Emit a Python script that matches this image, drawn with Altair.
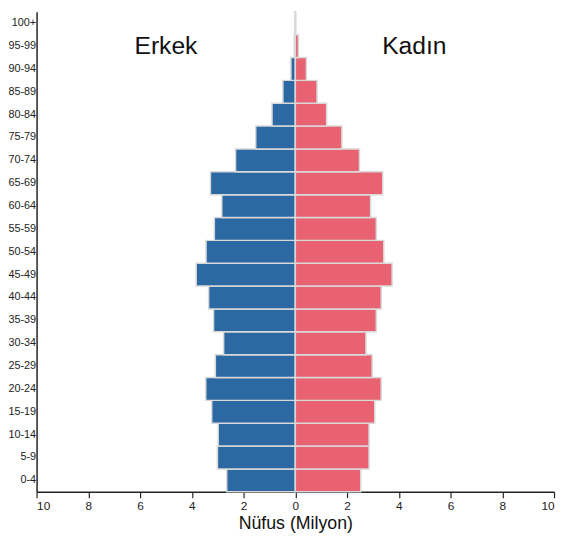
import altair as alt
import pandas as pd

ages = ["0-4", "5-9", "10-14", "15-19", "20-24", "25-29", "30-34", "35-39",
        "40-44", "45-49", "50-54", "55-59", "60-64", "65-69", "70-74",
        "75-79", "80-84", "85-89", "90-94", "95-99", "100+"]
erkek = [2.65, 3.01, 2.98, 3.23, 3.46, 3.09, 2.77, 3.16, 3.35, 3.83, 3.45,
         3.13, 2.84, 3.28, 2.31, 1.53, 0.90, 0.48, 0.17, 0.04, 0.02]
kadin = [2.53, 2.85, 2.85, 3.07, 3.32, 2.97, 2.73, 3.13, 3.32, 3.74, 3.42,
         3.13, 2.91, 3.38, 2.48, 1.80, 1.21, 0.84, 0.43, 0.12, 0.02]
x_ticks = [-10, -8, -6, -4, -2, 0, 2, 4, 6, 8, 10]
sex_labels = ["Erkek", "Kadın"]
sex_colors = ["#2c69a3", "#e86272"]
label_x = [-5.0, 4.6]

rows = []
for a, m, f in zip(ages, erkek, kadin):
    rows.append({"age": a, "sex": "Erkek", "value": -m})
    rows.append({"age": a, "sex": "Kadın", "value": f})
df = pd.DataFrame(rows)

labels = pd.DataFrame({"sex": sex_labels, "x": label_x, "age": ["95-99", "95-99"]})

font = "Liberation Sans"
order = list(reversed(ages))
y_scale = alt.Scale(domain=order, paddingInner=0, paddingOuter=0)
x_scale = alt.Scale(domain=[-10, 10], nice=False)

y_enc = alt.Y("age:N", sort=order, scale=y_scale,
              axis=alt.Axis(title=None, tickSize=0, labelPadding=1, labelFontSize=11,
                            labelColor="#222", labelFont=font, domainColor="#222",
                            domainWidth=1.5))

bars = alt.Chart(df).mark_bar(stroke="#d9d9d9", strokeWidth=1.5).encode(
    x=alt.X("value:Q", scale=x_scale,
            axis=alt.Axis(values=x_ticks, labelExpr="abs(datum.value)",
                          title="Nüfus (Milyon)", titleFontSize=18, titleFont=font,
                          titleFontWeight="normal", titleColor="#111", titlePadding=3,
                          labelFontSize=12, labelColor="#222", labelFont=font,
                          labelPadding=3, tickSize=6, tickColor="#222",
                          domainColor="#222", domainWidth=1.5, tickWidth=1.2,
                          grid=False)),
    y=y_enc,
    color=alt.Color("sex:N", scale=alt.Scale(domain=sex_labels, range=sex_colors),
                    legend=None),
)

text = alt.Chart(labels).mark_text(fontSize=25, font=font, color="#111").encode(
    x=alt.X("x:Q", scale=x_scale),
    y=alt.Y("age:N", sort=order, scale=y_scale),
    text="sex:N",
)

chart = alt.layer(bars, text).properties(
    width=525, height=487,
    autosize=alt.AutoSizeParams(type="none"),
    padding={"left": 29, "top": 0, "right": 3, "bottom": 42},
).configure_view(stroke=None)

chart.save("out.html", embed_options={"renderer": "svg", "actions": False})
